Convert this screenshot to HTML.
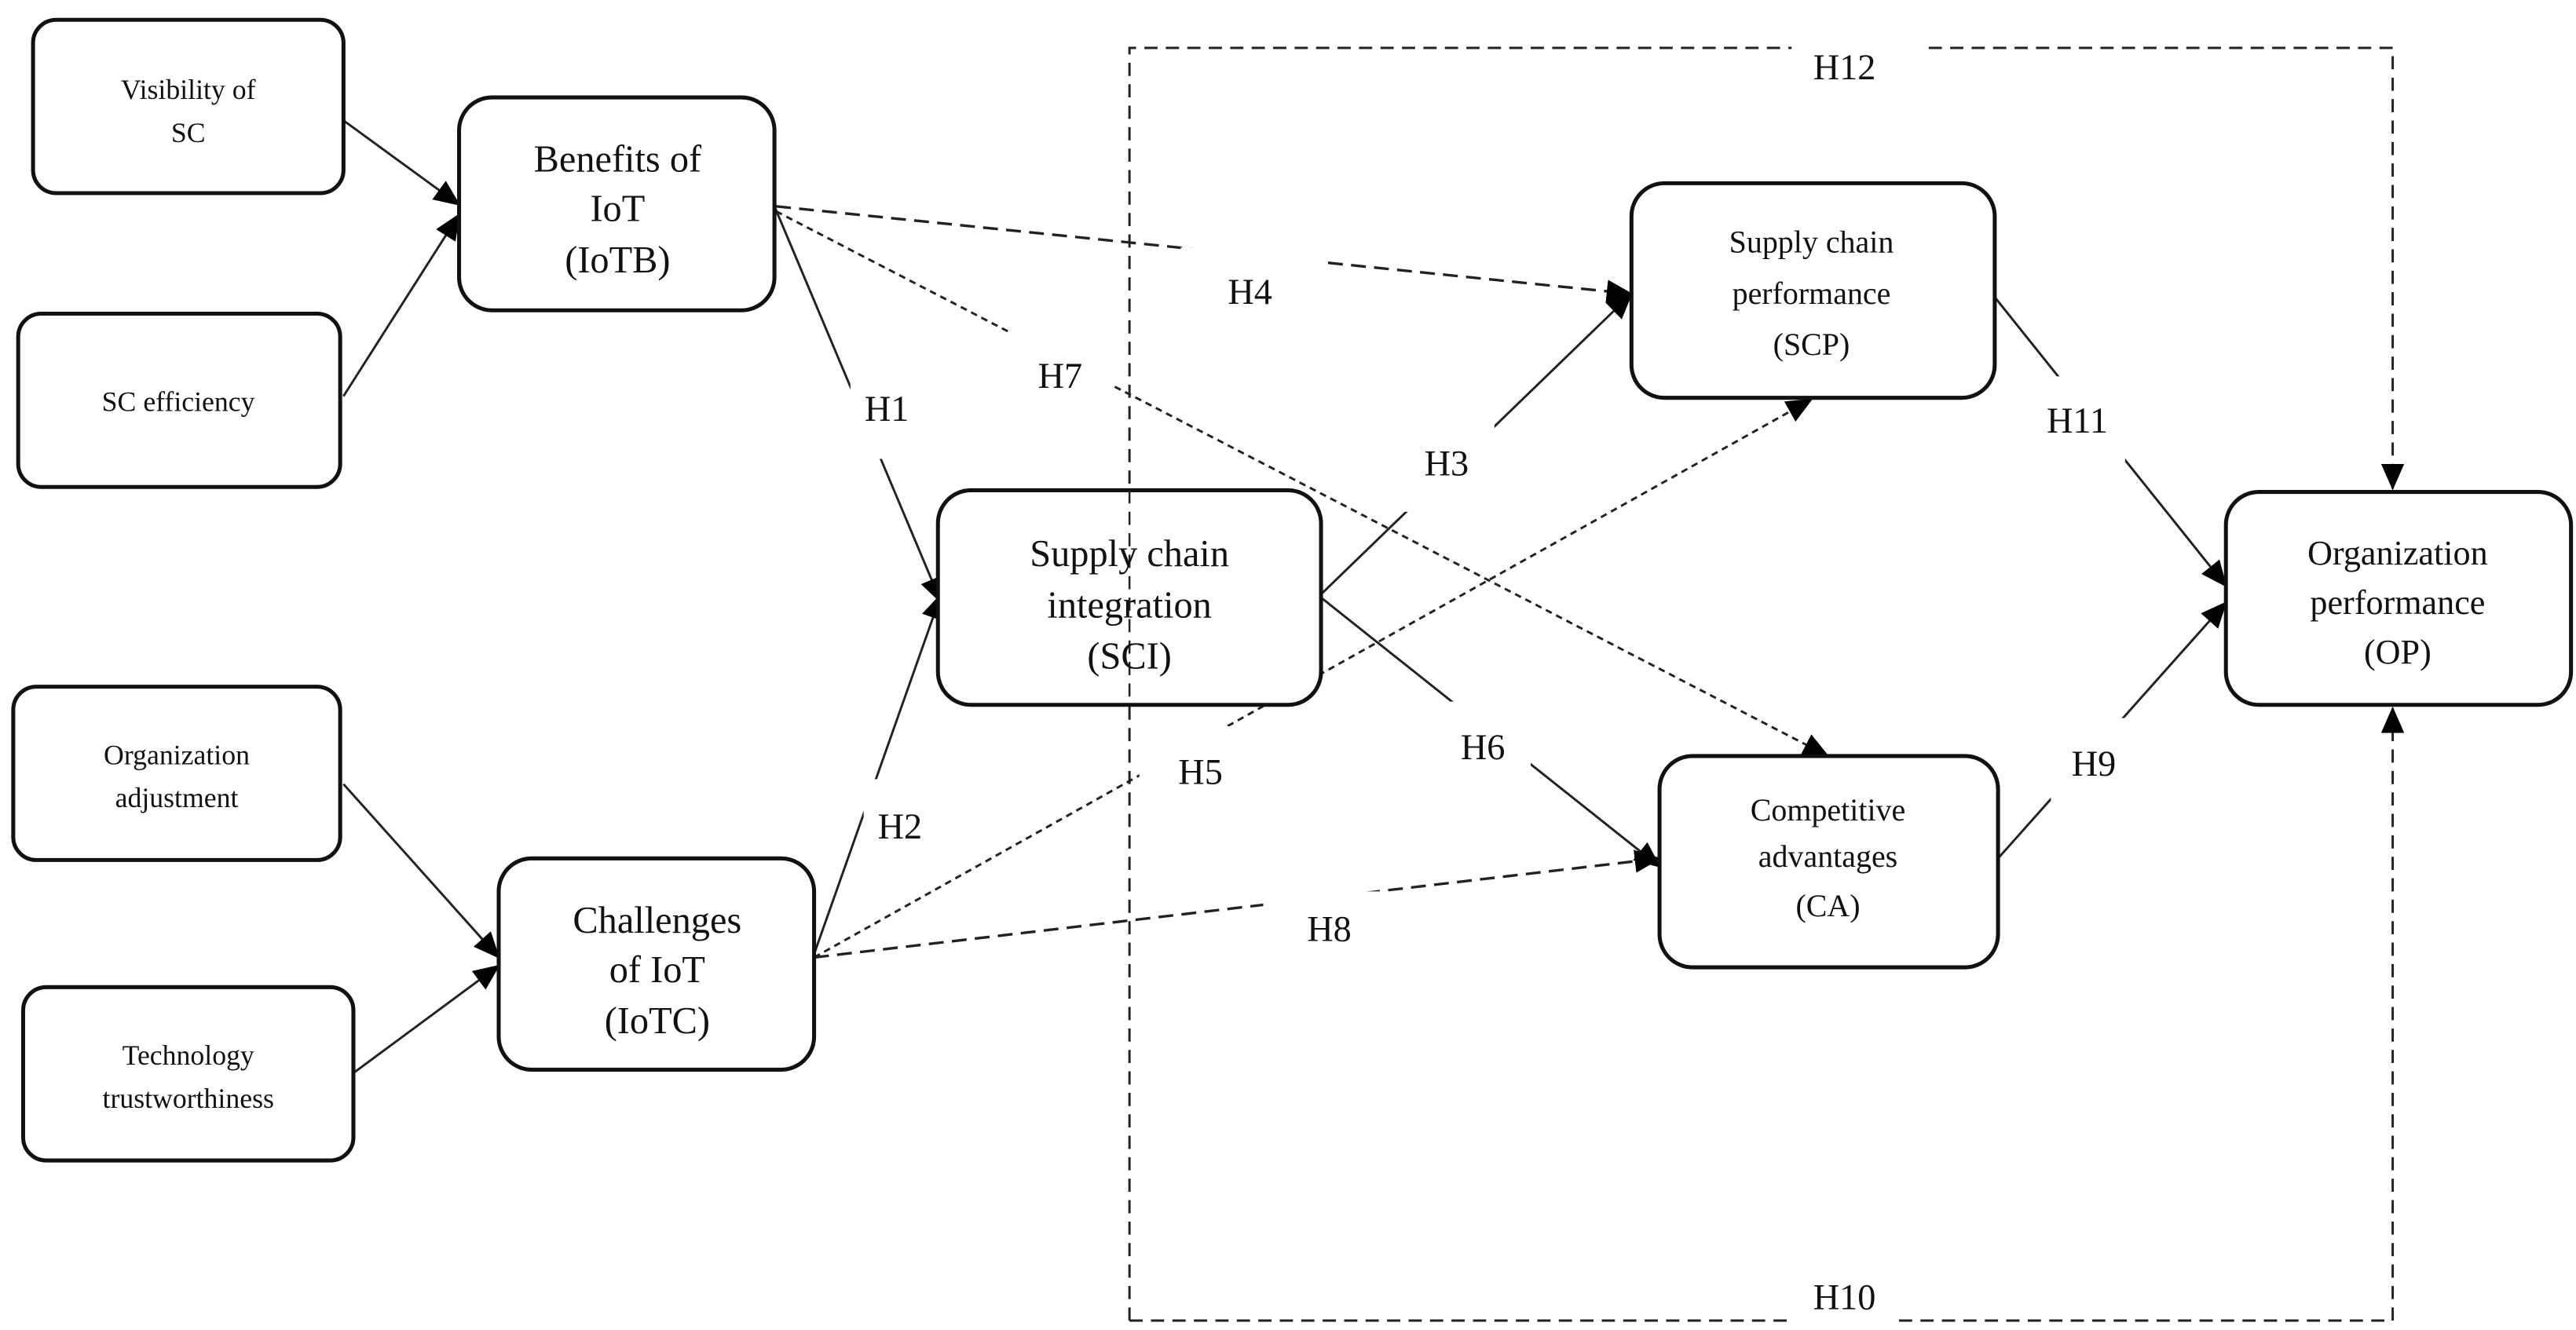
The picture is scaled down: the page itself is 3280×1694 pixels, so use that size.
<!DOCTYPE html>
<html><head><meta charset="utf-8"><style>
html,body{margin:0;padding:0;background:#fff}
svg{display:block}
text{font-family:"Liberation Serif",serif;fill:#111;text-anchor:middle}
</style></head><body>
<svg width="3280" height="1694" viewBox="0 0 1560 805.7" xmlns="http://www.w3.org/2000/svg">
<defs>
<marker id="a" markerUnits="userSpaceOnUse" markerWidth="16" markerHeight="14" refX="15" refY="7" orient="auto"><path d="M0,0 L16,7 L0,14 z" fill="#000"/></marker>
</defs>
<g fill="none" stroke="#222" stroke-width="1.4">
<path d="M684,800 L684,29 L1085,29 M1168,29 L1449,29 L1449,296" stroke-dasharray="8,5" marker-end="url(#a)"/>
<path d="M684,800 L1085,800 M1150,800 L1449,800 L1449,429" stroke-dasharray="8,5" marker-end="url(#a)"/>
<path d="M208,73 L278,124" marker-end="url(#a)"/>
<path d="M208,240 L278,130" marker-end="url(#a)"/>
<path d="M208,475 L302,580" marker-end="url(#a)"/>
<path d="M214,650 L302,585" marker-end="url(#a)"/>
<path d="M469,125 L570,365" marker-end="url(#a)"/>
<path d="M493,578 L570,360" marker-end="url(#a)"/>
<path d="M470,125 L988,178" stroke-dasharray="9,5" stroke-width="1.6" marker-end="url(#a)"/>
<path d="M470,128 L1107,458" stroke-dasharray="4,3" marker-end="url(#a)"/>
<path d="M800,360 L988,178" marker-end="url(#a)"/>
<path d="M800,362 L1005,525" marker-end="url(#a)"/>
<path d="M493,580 L1097,242" stroke-dasharray="4,3" marker-end="url(#a)"/>
<path d="M493,580 L1005,520" stroke-dasharray="9,5" stroke-width="1.6" marker-end="url(#a)"/>
<path d="M1208,180 L1348,355" marker-end="url(#a)"/>
<path d="M1210,520 L1348,365" marker-end="url(#a)"/>
</g>
<g fill="#fff">
<rect x="515" y="203" width="45" height="75"/>
<rect x="523" y="472" width="45" height="60"/>
<rect x="715" y="150" width="85" height="45"/>
<rect x="612" y="198" width="62" height="55"/>
<rect x="850" y="250" width="55" height="60"/>
<rect x="872" y="425" width="55" height="60"/>
<rect x="690" y="440" width="75" height="50"/>
<rect x="765" y="540" width="80" height="45"/>
<rect x="1232" y="228" width="55" height="60"/>
<rect x="1242" y="435" width="55" height="55"/>
</g>
<g font-size="22">
<text x="537" y="255">H1</text>
<text x="545" y="508">H2</text>
<text x="757" y="184">H4</text>
<text x="642" y="235">H7</text>
<text x="876" y="288">H3</text>
<text x="898" y="460">H6</text>
<text x="727" y="475">H5</text>
<text x="805" y="570">H8</text>
<text x="1258" y="262">H11</text>
<text x="1268" y="470">H9</text>
<text x="1117" y="48">H12</text>
<text x="1117" y="793">H10</text>
</g>
<g fill="#fff" stroke="#111" stroke-width="2.4">
<rect x="20" y="12" width="188" height="105" rx="14"/>
<rect x="11" y="190" width="195" height="105" rx="14"/>
<rect x="8" y="416" width="198" height="105" rx="14"/>
<rect x="14" y="598" width="200" height="105" rx="14"/>
<rect x="278" y="59" width="191" height="129" rx="20"/>
<rect x="302" y="520" width="191" height="128" rx="20"/>
<rect x="568" y="297" width="232" height="130" rx="20"/>
<rect x="988" y="111" width="220" height="130" rx="20"/>
<rect x="1005" y="458" width="205" height="128" rx="20"/>
<rect x="1348" y="298" width="209" height="129" rx="20"/>
</g>
<path d="M684,297 L684,427" stroke="#222" stroke-width="1.2" stroke-dasharray="8,5"/>
<g font-size="17">
<text x="114" y="60">Visibility of</text><text x="114" y="86">SC</text>
<text x="108" y="249">SC efficiency</text>
<text x="107" y="463">Organization</text><text x="107" y="489">adjustment</text>
<text x="114" y="645">Technology</text><text x="114" y="671">trustworthiness</text>
</g>
<g font-size="19">
<text x="1097" y="153">Supply chain</text>
<text x="1097" y="184">performance</text><text x="1097" y="215">(SCP)</text>
<text x="1107" y="497">Competitive</text><text x="1107" y="525">advantages</text><text x="1107" y="555">(CA)</text>
</g>
<g font-size="23">
<text x="374" y="104">Benefits of</text><text x="374" y="134">IoT</text><text x="374" y="165">(IoTB)</text>
<text x="398" y="565">Challenges</text><text x="398" y="595">of IoT</text><text x="398" y="626">(IoTC)</text>
<text x="684" y="343">Supply chain</text><text x="684" y="374">integration</text><text x="684" y="405">(SCI)</text>
</g>
<g font-size="21">
<text x="1452" y="342">Organization</text><text x="1452" y="372">performance</text><text x="1452" y="402">(OP)</text>
</g>
</svg>
</body></html>
